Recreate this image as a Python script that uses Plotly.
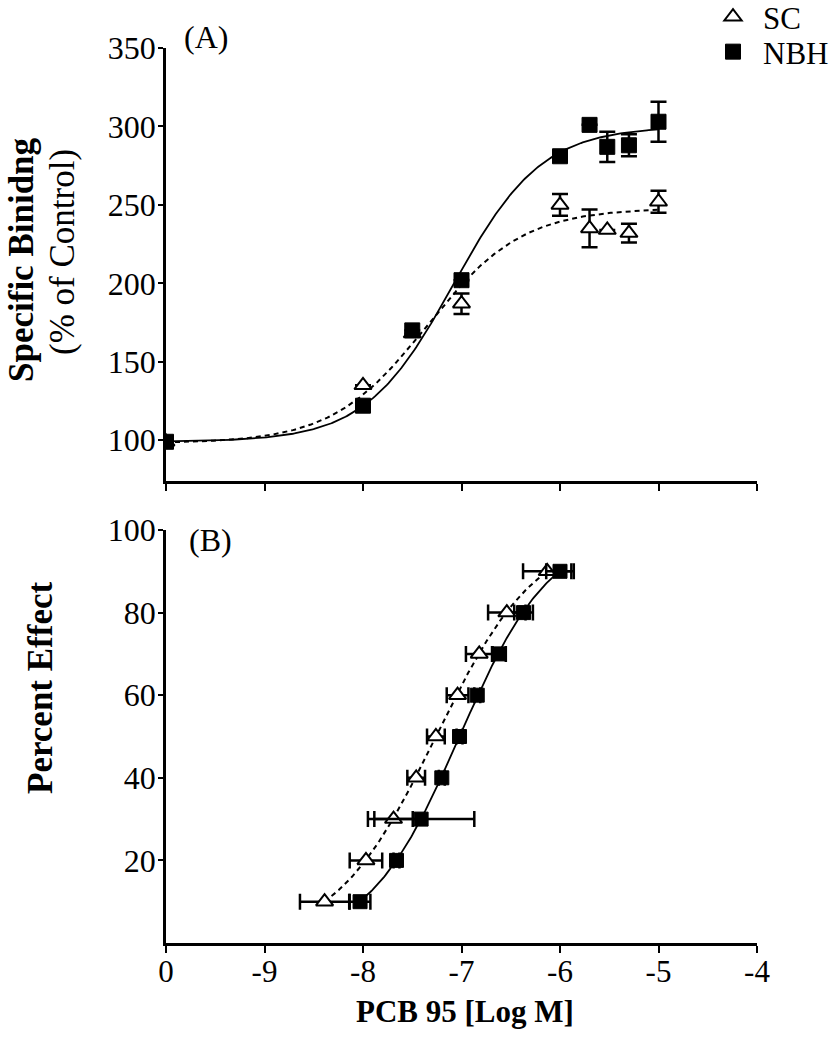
import numpy as np
import plotly.graph_objects as go

# ---------------- Data ----------------
# Panel A: specific binding (% of control); x = log M (-10 plotted as "0" = control)
a_x_sc = [-10, -8, -7.5, -7, -6, -5.7, -5.52, -5.3, -5]
a_y_sc = [99, 135, 168, 187, 250, 235, 234, 232, 252]
a_e_sc = [0, 0, 0, 6.5, 7, 12, 0, 6, 7]

a_x_nbh = [-10, -8, -7.5, -7, -6, -5.7, -5.52, -5.3, -5]
a_y_nbh = [99, 122, 170, 202, 281, 301, 287, 288, 303]
a_e_nbh = [0, 0, 0, 0, 0, 0, 9.6, 7, 12.8]

# Fit parameters (4-parameter logistic) for panel A curves
fitA_sc = dict(bottom=98, top=248, logec50=-7.35, hill=0.9)
fitA_nbh = dict(bottom=99, top=300, logec50=-7.08, hill=0.97)

# Panel B: percent effect vs log concentration
b_y = [10, 20, 30, 40, 50, 60, 70, 80, 90]
b_x_sc = [-8.39, -7.97, -7.69, -7.46, -7.26, -7.04, -6.82, -6.54, -6.13]
b_e_sc = [0.25, 0.165, 0.195, 0.09, 0.09, 0.11, 0.135, 0.19, 0.245]
b_x_nbh = [-8.03, -7.66, -7.41, -7.20, -7.02, -6.84, -6.62, -6.37, -6.00]
b_e_nbh = [0.105, 0.03, 0.54, 0.03, 0.03, 0.03, 0.07, 0.095, 0.14]

fitB_sc = dict(logec50=-7.26, hill=0.844)
fitB_nbh = dict(logec50=-7.02, hill=0.94)

x_tickvals = [-10, -9, -8, -7, -6, -5, -4]
x_ticktext = ["0", "-9", "-8", "-7", "-6", "-5", "-4"]
yA_ticks = [100, 150, 200, 250, 300, 350]
yB_ticks = [20, 40, 60, 80, 100]

# ---------------- Curves ----------------
def four_pl(x, bottom, top, logec50, hill):
    return bottom + (top - bottom) / (1 + 10 ** ((logec50 - x) * hill))

xa = np.linspace(-10, -5, 300)
ya_sc = four_pl(xa, **fitA_sc)
ya_nbh = four_pl(xa, **fitA_nbh)

def inv_curve(p, lo, hi, n=200):
    ec, h = p["logec50"], p["hill"]
    yy = np.linspace(lo, hi, n)
    xx = ec - np.log10(100.0 / yy - 1) / h
    return xx, yy

xb_sc, yb_sc = inv_curve(fitB_sc, min(b_y), max(b_y))
xb_nbh, yb_nbh = inv_curve(fitB_nbh, min(b_y), max(b_y))

# ---------------- Figure ----------------
W, H = 835, 1050
FONT = "Liberation Serif, Times New Roman, serif"
BLACK = "#000000"

fig = go.Figure()

# Panel A curves
fig.add_trace(go.Scatter(x=xa, y=ya_sc, mode="lines", xaxis="x", yaxis="y",
                         line=dict(color=BLACK, width=2, dash="5px,4px"),
                         showlegend=False, hoverinfo="skip"))
fig.add_trace(go.Scatter(x=xa, y=ya_nbh, mode="lines", xaxis="x", yaxis="y",
                         line=dict(color=BLACK, width=1.8),
                         showlegend=False, hoverinfo="skip"))

err_style = dict(color=BLACK, thickness=2.5, width=8)

fig.add_trace(go.Scatter(x=a_x_sc, y=a_y_sc, mode="markers", name="SC",
                         xaxis="x", yaxis="y", legend="legend",
                         error_y=dict(type="data", array=a_e_sc, visible=True, **err_style),
                         marker=dict(symbol="triangle-up", size=15, color="white",
                                     line=dict(color=BLACK, width=2))))
fig.add_trace(go.Scatter(x=a_x_nbh, y=a_y_nbh, mode="markers", name="NBH",
                         xaxis="x", yaxis="y", legend="legend2",
                         error_y=dict(type="data", array=a_e_nbh, visible=True, **err_style),
                         marker=dict(symbol="square", size=15, color=BLACK,
                                     line=dict(color=BLACK, width=1))))

# Panel B curves
fig.add_trace(go.Scatter(x=xb_sc, y=yb_sc, mode="lines", xaxis="x2", yaxis="y2",
                         line=dict(color=BLACK, width=2, dash="5px,4px"),
                         showlegend=False, hoverinfo="skip"))
fig.add_trace(go.Scatter(x=xb_nbh, y=yb_nbh, mode="lines", xaxis="x2", yaxis="y2",
                         line=dict(color=BLACK, width=1.8),
                         showlegend=False, hoverinfo="skip"))

fig.add_trace(go.Scatter(x=b_x_sc, y=b_y, mode="markers", xaxis="x2", yaxis="y2",
                         showlegend=False,
                         error_x=dict(type="data", array=b_e_sc, visible=True, **err_style),
                         marker=dict(symbol="triangle-up", size=15, color="white",
                                     line=dict(color=BLACK, width=2))))
fig.add_trace(go.Scatter(x=b_x_nbh, y=b_y, mode="markers", xaxis="x2", yaxis="y2",
                         showlegend=False,
                         error_x=dict(type="data", array=b_e_nbh, visible=True, **err_style),
                         marker=dict(symbol="square", size=14, color=BLACK,
                                     line=dict(color=BLACK, width=1))))

x_dom = [166 / W, 757 / W]
axis_common = dict(showline=True, linecolor=BLACK, linewidth=2.5, showgrid=False,
                   zeroline=False, ticks="outside", tickcolor=BLACK, tickwidth=2,
                   automargin=False)

legend_common = dict(xanchor="left", yanchor="middle",
                     font=dict(family=FONT, size=31, color=BLACK),
                     bgcolor="rgba(0,0,0,0)", itemwidth=50, borderwidth=0)

fig.update_layout(
    width=W, height=H,
    margin=dict(l=0, r=0, t=0, b=0, autoexpand=False),
    paper_bgcolor="white", plot_bgcolor="white",
    font=dict(family=FONT, color=BLACK),
    xaxis=dict(domain=x_dom, range=[-10, -4], anchor="y", tickvals=x_tickvals,
               showticklabels=False, ticklen=7, **axis_common),
    yaxis=dict(domain=[1 - 481 / H, 1 - 48 / H], range=[74, 350], anchor="x",
               tickvals=yA_ticks, ticklen=5, ticklabelstandoff=-4,
               tickfont=dict(family=FONT, size=32, color=BLACK), **axis_common),
    xaxis2=dict(domain=x_dom, range=[-10, -4], anchor="y2", tickvals=x_tickvals,
                ticktext=x_ticktext, ticklen=7, ticklabelstandoff=-8,
                tickfont=dict(family=FONT, size=31, color=BLACK), **axis_common),
    yaxis2=dict(domain=[1 - 943 / H, 1 - 530 / H], range=[0, 100], anchor="x2",
                tickvals=yB_ticks, ticklen=5, ticklabelstandoff=-4,
                tickfont=dict(family=FONT, size=32, color=BLACK), **axis_common),
    legend=dict(x=703 / W, y=1 - 17 / H, **legend_common),
    legend2=dict(x=703 / W, y=1 - 52 / H, **legend_common),
    showlegend=True,
)

def ann(text, xpx, ypx, size, angle=0, bold=False):
    fig.add_annotation(text=f"<b>{text}</b>" if bold else text,
                       x=xpx / W, y=1 - ypx / H, xref="paper", yref="paper",
                       xanchor="center", yanchor="middle", showarrow=False,
                       textangle=angle,
                       font=dict(family=FONT, size=size, color=BLACK))

ann("(A)", 206, 37, 32)
ann("(B)", 210, 540, 32)
ann("Specific Binidng", 21, 260, 35, angle=-90, bold=True)
ann("(% of Control)", 62, 252, 35, angle=-90)
ann("Percent Effect", 40, 688, 35, angle=-90, bold=True)
ann("PCB 95 [Log M]", 465, 1011, 31, bold=True)

fig.write_html("out.html",
               config={"displayModeBar": False},
               post_script="document.body.style.margin='0';"
                           "document.body.style.overflow='hidden';")
